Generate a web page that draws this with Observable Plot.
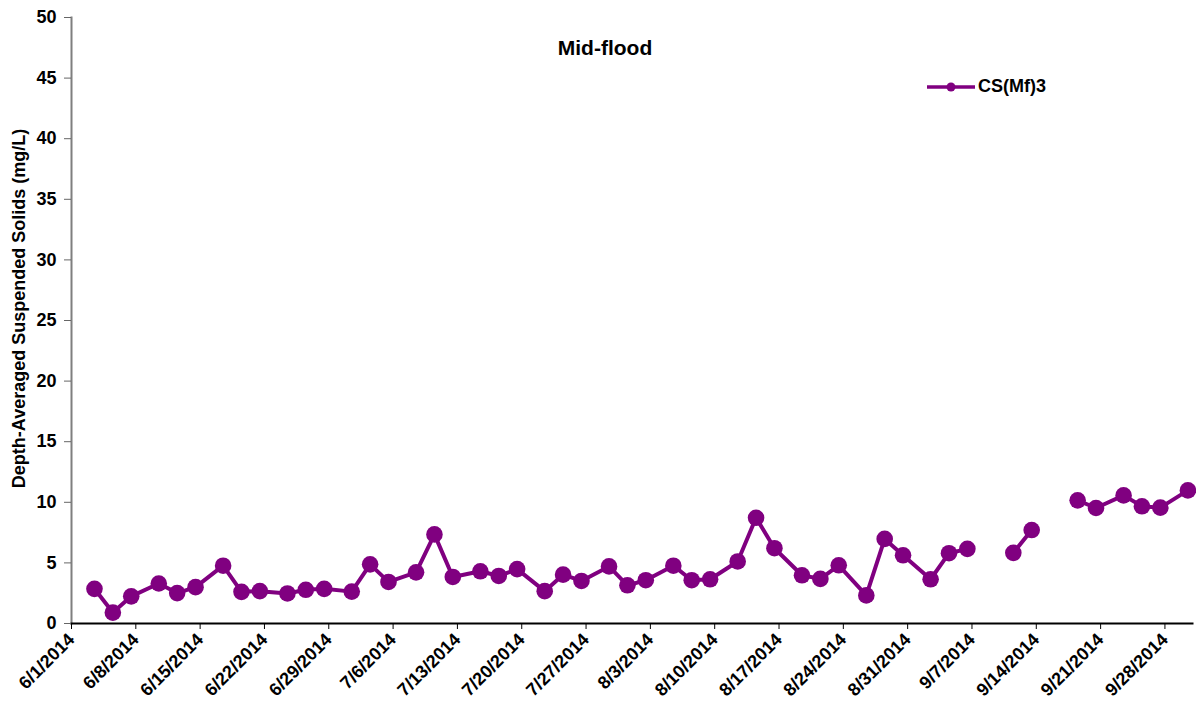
<!DOCTYPE html>
<html><head><meta charset="utf-8">
<script src="https://cdn.jsdelivr.net/npm/d3@7"></script>
<script src="https://cdn.jsdelivr.net/npm/@observablehq/plot@0.6"></script>
<style>
body{margin:0;background:#fff;font-family:"Liberation Sans",Arial,sans-serif;}
#wrap{position:relative;width:1196px;height:718px;}
#legend{position:absolute;left:926px;top:76px;display:flex;align-items:center;font-weight:bold;font-size:18px;color:#000;}
#legend svg{margin-right:2px;}
</style></head><body><div id="wrap"></div>
<script>
const title = "Mid-flood";
const yLabel = "Depth-Averaged Suspended Solids (mg/L)";
const seriesName = "CS(Mf)3";
const seriesColor = "#800080";

const sampleDates = [
  "2014-06-03","2014-06-05","2014-06-07","2014-06-10","2014-06-12","2014-06-14",
  "2014-06-17","2014-06-19","2014-06-21","2014-06-24","2014-06-26","2014-06-28",
  "2014-07-01","2014-07-03","2014-07-05","2014-07-08","2014-07-10","2014-07-12",
  "2014-07-15","2014-07-17","2014-07-19","2014-07-22","2014-07-24","2014-07-26",
  "2014-07-29","2014-07-31","2014-08-02","2014-08-05","2014-08-07","2014-08-09",
  "2014-08-12","2014-08-14","2014-08-16","2014-08-19","2014-08-21","2014-08-23",
  "2014-08-26","2014-08-28","2014-08-30","2014-09-02","2014-09-04","2014-09-06",
  "2014-09-09","2014-09-11","2014-09-13","2014-09-16","2014-09-18","2014-09-20",
  "2014-09-23","2014-09-25","2014-09-27","2014-09-30"
];
const tss = [
  2.86, 0.90, 2.24, 3.30, 2.51, 3.00,
  4.77, 2.61, 2.67, 2.48, 2.78, 2.86,
  2.63, 4.88, 3.43, 4.22, 7.35, 3.84,
  4.31, 3.92, 4.49, 2.67, 4.03, 3.51,
  4.71, 3.15, 3.57, 4.77, 3.57, 3.65,
  5.12, 8.72, 6.21, 3.98, 3.68, 4.80,
  2.32, 6.98, 5.63, 3.65, 5.80, 6.16,
  null, 5.83, 7.71, null, 10.16, 9.53,
  10.57, 9.67, 9.56, 10.98
];
const xTickLabels = [
  "6/1/2014","6/8/2014","6/15/2014","6/22/2014","6/29/2014","7/6/2014",
  "7/13/2014","7/20/2014","7/27/2014","8/3/2014","8/10/2014","8/17/2014",
  "8/24/2014","8/31/2014","9/7/2014","9/14/2014","9/21/2014","9/28/2014"
];
const xDomainLabels = ["6/1/2014", "10/1/2014"];
const yTicks = [0, 5, 10, 15, 20, 25, 30, 35, 40, 45, 50];

const parseTick = d3.utcParse("%m/%d/%Y");
const parseISO = d3.utcParse("%Y-%m-%d");
const fmtTick = d3.utcFormat("%-m/%-d/%Y");

// Excel date axis centres each day's point in its day slot
const data = sampleDates.map((d, i) => ({
  date: d3.utcHour.offset(parseISO(d), 12),
  value: tss[i] == null ? NaN : tss[i]
}));
const xTicks = xTickLabels.map(parseTick);

const chart = Plot.plot({
  width: 1196,
  height: 718,
  marginLeft: 71,
  marginRight: 4,
  marginTop: 17,
  marginBottom: 95,
  style: {fontFamily: '"Liberation Sans", Arial, sans-serif', fontWeight: "bold", fontSize: "18px", color: "#000", background: "#fff"},
  x: {type: "utc", domain: xDomainLabels.map(parseTick)},
  y: {domain: [0, 50]},
  marks: [
    Plot.frame({anchor: "left", stroke: "#7f7f7f", strokeWidth: 2}),
    Plot.frame({anchor: "bottom", stroke: "#000", strokeWidth: 2}),
    Plot.axisY({ticks: yTicks, tickSize: 7, tickPadding: 8, stroke: "#666",
      label: null, fontSize: 18}),
    Plot.axisX({ticks: xTicks, tickFormat: fmtTick, tickSize: 6, tickRotate: -45, tickPadding: 7,
      label: null, fontSize: 18}),
    Plot.text([yLabel], {frameAnchor: "left", textAnchor: "middle", rotate: -90, dx: -52, dy: -12, fontSize: 18, fontWeight: "bold", fill: "#000"}),
    Plot.line(data, {x: "date", y: "value", stroke: seriesColor, strokeWidth: 4}),
    Plot.dot(data, {x: "date", y: "value", r: 8.3, fill: seriesColor, stroke: "none"}),
    Plot.text([title], {frameAnchor: "top", dx: -27, dy: 23, fontSize: 21, fontWeight: "bold", fill: "#000"})
  ]
});
const wrap = document.getElementById("wrap");
wrap.appendChild(chart);

const legend = document.createElement("div");
legend.id = "legend";
legend.innerHTML = `<svg width="50" height="18"><line x1="1" y1="9" x2="49" y2="9" stroke="${seriesColor}" stroke-width="3.5"/><circle cx="25" cy="9" r="4.5" fill="${seriesColor}"/></svg><span>${seriesName}</span>`;
wrap.appendChild(legend);
</script>
</body></html>
